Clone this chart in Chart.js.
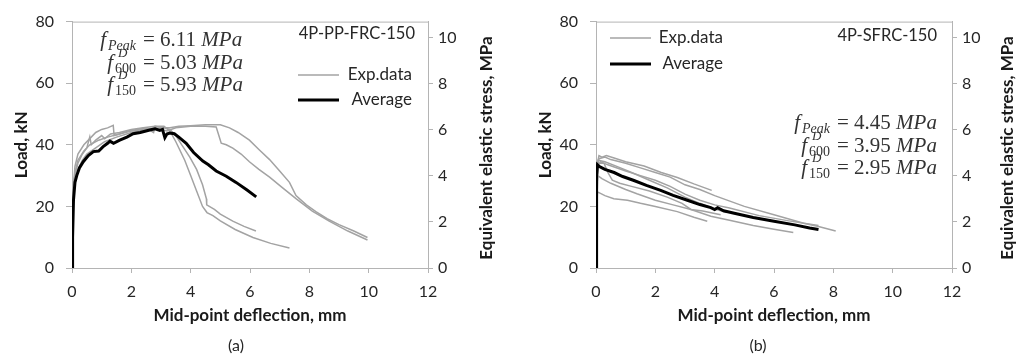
<!DOCTYPE html>
<html>
<head>
<meta charset="utf-8">
<script src="https://cdn.jsdelivr.net/npm/chart.js@4.4.1/dist/chart.umd.min.js"></script>
<style>
  body { margin: 0; background: #fff; }
  .row { display: flex; width: 1016px; height: 360px; }
  canvas { display: block; }
</style>
</head>
<body>
<div class="row">
  <canvas id="chartA" width="508" height="360"></canvas>
  <canvas id="chartB" width="508" height="360"></canvas>
</div>
<script>
// tick values shared by both panels
var deflTicks = [0, 2, 4, 6, 8, 10, 12];
var loadTicks = [0, 20, 40, 60, 80];
var stressTicks = [0, 2, 4, 6, 8, 10];

// (a) 4P-PP-FRC-150 : [deflection mm, load kN]
var ppAverage = [[0,0],[0.02,10],[0.05,22],[0.1,27.8],[0.16,30],[0.25,32.5],[0.38,34.5],[0.55,36.5],[0.72,37.8],[0.9,38],[1.05,39.4],[1.2,40.5],[1.28,41.2],[1.4,40.5],[1.61,41.5],[1.85,42.5],[2.06,43.6],[2.3,44],[2.62,44.8],[2.8,45.2],[2.96,44.7],[3.05,45],[3.13,42.3],[3.2,43.5],[3.29,43.8],[3.45,43.6],[3.6,42.5],[3.85,40.5],[4.1,37.5],[4.41,34.7],[4.6,33.5],[4.86,31.5],[5.2,29.8],[5.53,27.8],[5.9,25.3],[6.21,23.1]];
var ppExp1 = [[0,0],[0.02,12],[0.05,24],[0.1,30],[0.2,34],[0.35,37],[0.5,39],[0.6,42.6],[0.65,40],[0.8,41.5],[1.0,43],[1.1,42],[1.3,43.5],[1.6,44],[2.0,45],[2.4,45.5],[2.8,46],[3.1,45.5],[3.3,45],[3.5,43],[3.7,40],[3.97,36],[4.2,32],[4.4,27],[4.53,22.5],[4.54,20.5],[4.8,19],[5.0,17.5],[5.42,15.2],[5.8,13.5],[6.2,12]];
var ppExp2 = [[0,0],[0.02,15],[0.05,27],[0.1,33],[0.2,37],[0.4,40],[0.6,42],[0.8,44],[1.0,45],[1.2,45.5],[1.39,46.3],[1.42,43],[1.6,43.5],[1.9,44.5],[2.2,45],[2.5,45.5],[2.75,44],[2.8,46],[3.1,46],[3.3,44.5],[3.5,41],[3.8,35],[4.0,30],[4.2,25],[4.4,20],[4.55,18],[4.75,17],[5.0,15.3],[5.5,12.5],[6.1,9.9],[6.7,8],[7.33,6.5]];
var ppExp3 = [[0,0],[0.02,12],[0.05,23],[0.1,28],[0.2,32],[0.35,35],[0.5,37],[0.8,39],[1.1,41],[1.5,42.5],[2.0,44],[2.5,45],[3.0,45.5],[3.3,45.5],[3.6,46],[4.0,46.2],[4.5,46.5],[5.0,46.5],[5.31,45.5],[5.6,44],[5.98,41.5],[6.3,38.5],[6.66,35.2],[7.0,31.5],[7.33,27.8],[7.55,23.5],[7.9,20.5],[8.22,18.3],[8.6,16],[9.0,14.1],[9.5,12],[9.96,9.9]];
var ppExp4 = [[0,0],[0.02,14],[0.05,25],[0.1,31],[0.2,35],[0.4,38],[0.6,40],[0.9,41.5],[1.2,42.5],[1.6,43.5],[2.0,44.5],[2.4,45],[2.8,45.5],[3.2,44.5],[3.5,45.5],[4.0,46],[4.5,46],[4.86,45.8],[4.95,43],[5.03,40.5],[5.2,40],[5.42,38.9],[5.7,37],[5.98,34.5],[6.3,32],[6.66,29.5],[7.1,26],[7.55,22.5],[8.1,18.5],[8.67,15.2],[9.3,12],[9.96,9.1]];

// (b) 4P-SFRC-150 : [deflection mm, load kN]
var sfAverage = [[0,0],[0.01,8],[0.02,20],[0.03,30],[0.05,33.5],[0.1,33],[0.3,32],[0.61,31],[0.9,29.7],[1.28,28.4],[1.7,26.8],[2.18,25.2],[2.6,23.6],[3.08,22],[3.5,20.6],[3.87,19.6],[4.0,19],[4.1,19.6],[4.3,18.6],[4.66,17.8],[5.3,16.4],[6.0,15.2],[6.7,14],[7.2,13],[7.5,12.5]];
var sfExp1 = [[0,0],[0.02,20],[0.05,34],[0.1,36.5],[0.2,36],[0.35,36.5],[0.61,35.7],[1.0,34.5],[1.62,33.1],[2.2,31],[2.74,29.4],[3.3,27.3],[3.9,25.2]];
var sfExp2 = [[0,0],[0.02,22],[0.05,33],[0.1,35.5],[0.3,36],[0.5,35.2],[1.0,34],[1.5,32.5],[2.0,31],[2.5,29.5],[3.0,27],[3.5,25.5],[4.0,23.5],[5.0,20],[6.0,17.3],[7.0,14.5],[7.5,13.5],[8.08,12]];
var sfExp3 = [[0,0],[0.03,25],[0.06,33],[0.15,34.5],[0.4,33.5],[1.0,31.5],[1.5,30],[2.0,28.5],[2.5,26.5],[3.0,24],[3.5,22],[4.0,20.5],[4.5,19.5],[5.5,17],[6.5,15.3],[7.5,13.8]];
var sfExp4 = [[0,0],[0.02,18],[0.05,24.7],[0.3,23.5],[0.6,22.5],[1.06,22],[1.5,21],[2.0,20],[2.74,18.3],[3.3,16.5],[3.75,15.2]];
var sfExp5 = [[0,0],[0.03,22],[0.06,30],[0.2,29],[0.5,27.5],[1.0,25.5],[1.38,24.1],[2.0,22],[2.6,20.5],[3.2,19],[3.87,16.8],[4.5,15.5],[5.3,13.8],[6.0,12.6],[6.65,11.5]];
var sfExp6 = [[0,0],[0.03,26],[0.08,34],[0.27,34],[0.4,31],[0.55,28.5],[0.8,27.5],[1.2,26.5],[1.8,25],[2.4,23],[2.9,21],[3.2,19],[3.6,18.5],[4.2,17.3]];
var sfExp7 = [[0,0],[0.03,28],[0.07,35],[0.3,34.5],[0.7,33],[1.2,31],[1.8,28.5],[2.4,26],[3.0,23],[3.5,21],[3.9,19.5],[4.4,18]];

var AXIS = '#b4b4b4';
var EXP = '#a3a3a3';
var SANS = 'Lato, "Open Sans", sans-serif';
var MATH = '"Liberation Serif", serif';

Chart.defaults.font.family = SANS;
Chart.defaults.color = '#262626';

function expSet(pts) {
  return { label: 'Exp.data', data: pts, borderColor: EXP, borderWidth: 1.5 };
}

// f symbol with sub/superscript, then "= value MPa", aligned on the "=" sign
function drawFormula(ctx, eqX, y, sub, sup, value) {
  ctx.textAlign = 'left';
  ctx.textBaseline = 'alphabetic';
  var subItalic = isNaN(Number(sub));
  var subFont = (subItalic ? 'italic ' : '') + '14px ' + MATH;
  ctx.font = subFont;
  var subW = ctx.measureText(sub).width;
  ctx.font = 'italic 21px ' + MATH;
  var fW = ctx.measureText('f').width + 2;
  var x0 = eqX - 7 - subW - fW;
  ctx.fillText('f', x0, y);
  ctx.font = subFont;
  ctx.fillText(sub, x0 + fW, y + 4);
  if (sup) {
    ctx.font = 'italic 13px ' + MATH;
    ctx.fillText(sup, x0 + fW + 3, y - 12);
  }
  ctx.font = '21px ' + MATH;
  var t = '= ' + value;
  ctx.fillText(t, eqX, y);
  var w = ctx.measureText(t + ' ').width;
  ctx.font = 'italic 21px ' + MATH;
  ctx.fillText('MPa', eqX + w, y);
}

function makePanel(id, opts) {
  var extras = {
    id: 'extras',
    afterDraw: function (chart) {
      var ctx = chart.ctx;
      var ca = chart.chartArea;
      ctx.save();
      // top edge of the plot frame
      ctx.strokeStyle = AXIS;
      ctx.lineWidth = 1;
      ctx.beginPath();
      ctx.moveTo(ca.left, ca.top + 0.5);
      ctx.lineTo(ca.right, ca.top + 0.5);
      ctx.stroke();

      // specimen name
      ctx.fillStyle = '#262626';
      ctx.font = '16.5px ' + SANS;
      ctx.textAlign = 'right';
      ctx.textBaseline = 'middle';
      ctx.fillText(opts.name, opts.nameX, opts.nameY);

      // legend
      ctx.font = '17px ' + SANS;
      var ds = chart.data.datasets;
      var items = [ds[1], ds[0]];
      items.forEach(function (d, i) {
        var ly = opts.legY + i * opts.legGap;
        ctx.strokeStyle = d.borderColor;
        ctx.lineWidth = d.borderWidth;
        ctx.beginPath();
        ctx.moveTo(opts.legX, ly);
        ctx.lineTo(opts.legX + 41, ly);
        ctx.stroke();
        ctx.fillText(d.label, opts.legTextX, ly);
      });

      // strength values
      ctx.fillStyle = '#333';
      drawFormula(ctx, opts.eqX, opts.eqY[0], 'Peak', null, opts.values[0]);
      drawFormula(ctx, opts.eqX, opts.eqY[1], '600', 'D', opts.values[1]);
      drawFormula(ctx, opts.eqX, opts.eqY[2], '150', 'D', opts.values[2]);

      // right axis title, reading upward
      ctx.save();
      ctx.translate(opts.rTitleX, 148);
      ctx.rotate(-Math.PI / 2);
      ctx.fillStyle = '#1a1a1a';
      ctx.font = 'bold 17px ' + SANS;
      ctx.textAlign = 'center';
      ctx.textBaseline = 'middle';
      ctx.fillText('Equivalent elastic stress, MPa', 0, 0);
      ctx.restore();

      // panel tag
      ctx.fillStyle = '#262626';
      ctx.font = '16px ' + SANS;
      ctx.textAlign = 'center';
      ctx.textBaseline = 'middle';
      ctx.fillText(opts.tag, opts.tagX, 346);
      ctx.restore();
    }
  };

  var tickFont = { size: 16 };
  var titleFont = { size: 17, weight: 'bold' };

  return new Chart(document.getElementById(id), {
    type: 'scatter',
    data: { datasets: opts.datasets },
    options: {
      responsive: false,
      animation: false,
      showLine: true,
      elements: { point: { radius: 0, hoverRadius: 0 }, line: { tension: 0 } },
      layout: { padding: { top: 15, bottom: 34, left: 0, right: 0 } },
      plugins: { legend: { display: false }, tooltip: { enabled: false } },
      scales: {
        x: {
          type: 'linear', min: 0, max: 12,
          afterBuildTicks: function (s) { s.ticks = deflTicks.map(function (v) { return { value: v }; }); },
          afterFit: function (s) { s.height = 58; },
          grid: { drawOnChartArea: false, color: AXIS, tickLength: 5 },
          border: { color: AXIS },
          ticks: { font: tickFont, padding: 9, color: '#262626' },
          title: { display: true, text: 'Mid-point deflection, mm', font: titleFont, color: '#1a1a1a', padding: 0 }
        },
        y: {
          position: 'left', min: 0, max: 80,
          afterBuildTicks: function (s) { s.ticks = loadTicks.map(function (v) { return { value: v }; }); },
          afterFit: function (s) { s.width = opts.leftW; },
          grid: { drawOnChartArea: false, color: AXIS, tickLength: 6 },
          border: { color: AXIS },
          ticks: { font: tickFont, padding: 12, color: '#262626' },
          title: { display: true, text: 'Load, kN', font: titleFont, color: '#1a1a1a', padding: { top: opts.lTitlePad, bottom: 0 } }
        },
        y2: {
          position: 'right', min: 0, max: 10.7,
          afterBuildTicks: function (s) { s.ticks = stressTicks.map(function (v) { return { value: v }; }); },
          afterFit: function (s) { s.width = opts.rightW; },
          grid: { drawOnChartArea: false, color: AXIS, tickLength: 5 },
          border: { color: AXIS },
          ticks: { font: tickFont, padding: 5, color: '#262626' }
        }
      }
    },
    plugins: [extras]
  });
}

var avgStyle = { borderColor: '#000', borderWidth: 3 };

makePanel('chartA', {
  datasets: [
    { label: 'Average', data: ppAverage, borderColor: avgStyle.borderColor, borderWidth: avgStyle.borderWidth },
    expSet(ppExp1), expSet(ppExp2), expSet(ppExp3), expSet(ppExp4)
  ],
  leftW: 72, rightW: 80, lTitlePad: 11,
  name: '4P-PP-FRC-150', nameX: 415, nameY: 34,
  legX: 298, legY: 75, legGap: 25, legTextX: 412,
  eqX: 143, eqY: [46, 69, 91], values: ['6.11', '5.03', '5.93'],
  rTitleX: 487, tag: '(a)', tagX: 236
});

makePanel('chartB', {
  datasets: [
    { label: 'Average', data: sfAverage, borderColor: avgStyle.borderColor, borderWidth: avgStyle.borderWidth },
    expSet(sfExp1), expSet(sfExp2), expSet(sfExp3), expSet(sfExp4),
    expSet(sfExp5), expSet(sfExp6), expSet(sfExp7)
  ],
  leftW: 88, rightW: 64, lTitlePad: 27,
  name: '4P-SFRC-150', nameX: 429, nameY: 36,
  legX: 102, legY: 38, legGap: 26, legTextX: 215,
  eqX: 329, eqY: [129, 152, 174], values: ['4.45', '3.95', '2.95'],
  rTitleX: 500, tag: '(b)', tagX: 250
});
</script>
</body>
</html>
